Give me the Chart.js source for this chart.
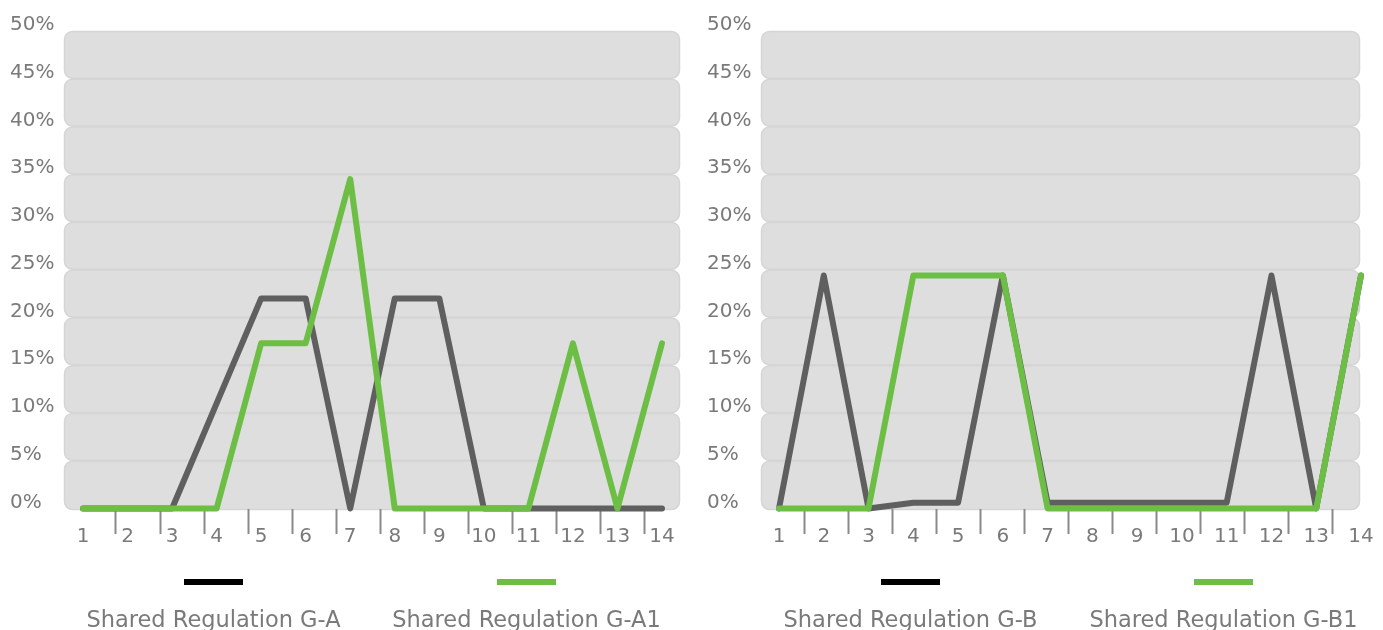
<!DOCTYPE html>
<html>
<head>
<meta charset="utf-8">
<script src="https://cdn.jsdelivr.net/npm/chart.js@4.4.1/dist/chart.umd.min.js"></script>
<style>
  html, body { margin: 0; padding: 0; background: #ffffff; }
  body { width: 1383px; height: 630px; position: relative; overflow: hidden; }
  .panel { position: absolute; top: 0; height: 630px; }
  #p1 { left: 0; width: 697px; }
  #p2 { left: 697px; width: 686px; }
</style>
</head>
<body>
<div class="panel" id="p1"><canvas id="c1" width="697" height="630"></canvas></div>
<div class="panel" id="p2"><canvas id="c2" width="686" height="630"></canvas></div>
<script>
// ---- data ----
const categories = ['1','2','3','4','5','6','7','8','9','10','11','12','13','14'];
const yTickValues = [0,5,10,15,20,25,30,35,40,45,50];
const tickMarkValues = [1,2,3,4,5,6,7,8,9,10,11,12,13];

const seriesNamesA = ['Shared Regulation G-A', 'Shared Regulation G-A1'];
const seriesA_gray  = [0, 0, 0, 11, 22, 22, 0, 22, 22, 0, 0, 0, 0, 0];
const seriesA_green = [0, 0, 0, 0, 17.3, 17.3, 34.5, 0, 0, 0, 0, 17.3, 0, 17.3];

const seriesNamesB = ['Shared Regulation G-B', 'Shared Regulation G-B1'];
const seriesB_gray  = [0, 24.4, 0, 0.6, 0.6, 24.4, 0.6, 0.6, 0.6, 0.6, 0.6, 24.4, 0, 24.4];
const seriesB_green = [0, 0, 0, 24.4, 24.4, 24.4, 0, 0, 0, 0, 0, 0, 0, 24.4];

const FONT = "'DejaVu Sans', sans-serif";
const GRAY = '#5f5f5f';
const GREEN = '#6dbe45';
const TEXT = '#7a7a7a';

function toPoints(values) {
  return values.map((v, i) => ({ x: Number(categories[i]), y: v }));
}

// background bands (rounded rectangles per 5% step)
const bandsPlugin = {
  id: 'bands',
  beforeDraw(chart) {
    const { ctx, chartArea } = chart;
    const y = chart.scales.y;
    ctx.save();
    for (let i = 0; i < yTickValues.length - 1; i++) {
      const top = y.getPixelForValue(yTickValues[i + 1]);
      const bot = y.getPixelForValue(yTickValues[i]) + (i === 0 ? 1.5 : 0);
      const l = chartArea.left + 0.5, w = chartArea.right - chartArea.left - 1;
      ctx.beginPath();
      ctx.roundRect(l, top + 0.5, w, bot - top - 1, 8);
      ctx.fillStyle = '#dedede';
      ctx.fill();
      ctx.lineWidth = 1.5;
      ctx.strokeStyle = '#d5d5d5';
      ctx.stroke();
    }
    ctx.restore();
  }
};

// legend: line marker above centred label
const legendPlugin = {
  id: 'stackLegend',
  afterDraw(chart, args, opts) {
    const { ctx } = chart;
    ctx.save();
    chart.data.datasets.forEach((ds, i) => {
      const cx = opts.centers[i];
      ctx.fillStyle = ds.backgroundColor;
      ctx.fillRect(cx - 29.5, opts.markerY, 59, 6);
      ctx.fillStyle = TEXT;
      ctx.font = '22.5px ' + FONT;
      ctx.textAlign = 'center';
      ctx.textBaseline = 'alphabetic';
      ctx.fillText(ds.label, cx, opts.textY);
    });
    ctx.restore();
  }
};

function noSidePadding(s) {
  s.paddingLeft = 0; s.paddingRight = 0;
}

function makeChart(canvasId, names, grayVals, greenVals, xRange, tickRange, padRight) {
  return new Chart(document.getElementById(canvasId), {
    type: 'line',
    data: {
      datasets: [
        {
          label: names[0], data: toPoints(grayVals),
          borderColor: GRAY, backgroundColor: '#000000',
          borderWidth: 6, pointRadius: 0, tension: 0,
          borderJoinStyle: 'round', borderCapStyle: 'round',
          order: 1, clip: false
        },
        {
          label: names[1], data: toPoints(greenVals),
          borderColor: GREEN, backgroundColor: GREEN,
          borderWidth: 6, pointRadius: 0, tension: 0,
          borderJoinStyle: 'round', borderCapStyle: 'round',
          order: 0, clip: false
        }
      ]
    },
    options: {
      responsive: false,
      animation: false,
      devicePixelRatio: 1,
      layout: { padding: { left: 10, top: 31, right: padRight, bottom: 81.5 } },
      plugins: {
        legend: { display: false },
        tooltip: { enabled: false },
        stackLegend: { centers: [213.5, 526.5], markerY: 579, textY: 627 }
      },
      scales: {
        y: {
          min: 0, max: 50,
          afterBuildTicks: (s) => { s.ticks = yTickValues.map(v => ({ value: v })); },
          afterFit: (s) => { s.width = 54; },
          grid: { display: false },
          border: { display: false },
          ticks: {
            crossAlign: 'far',
            labelOffset: -6,
            color: TEXT,
            font: { family: FONT, size: 20 },
            callback: (v) => v + '%'
          }
        },
        x: {
          type: 'linear',
          min: xRange[0], max: xRange[1],
          afterBuildTicks: (s) => { s.ticks = categories.map(c => ({ value: Number(c) })); },
          afterFit: (s) => { s.height = 40; noSidePadding(s); },
          grid: { display: false, drawTicks: false },
          border: { display: false },
          ticks: {
            autoSkip: false, maxRotation: 0,
            padding: 16,
            color: TEXT,
            font: { family: FONT, size: 20 },
            callback: (v) => categories[v - 1]
          }
        },
        xt: {
          type: 'linear',
          position: { y: 0 },
          min: tickRange[0], max: tickRange[1],
          afterBuildTicks: (s) => { s.ticks = tickMarkValues.map(v => ({ value: v })); },
          afterFit: noSidePadding,
          grid: {
            drawOnChartArea: false, drawTicks: true,
            tickLength: 25, tickColor: '#8a8a8a', tickWidth: 2
          },
          border: { display: false },
          ticks: { display: false }
        }
      }
    },
    plugins: [bandsPlugin, legendPlugin]
  });
}

makeChart('c1', seriesNamesA, seriesA_gray, seriesA_green, [0.5734, 14.404], [-0.1818, 13.818], 17);
makeChart('c2', seriesNamesB, seriesB_gray, seriesB_green, [0.598, 13.978], [0.0227, 13.636], 23);
</script>
</body>
</html>
